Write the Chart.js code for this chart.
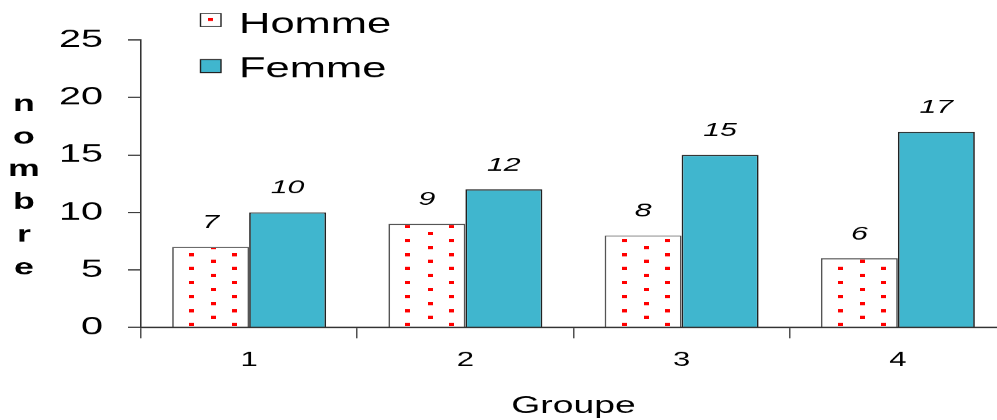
<!DOCTYPE html>
<html>
<head>
<meta charset="utf-8">
<script src="https://cdn.jsdelivr.net/npm/chart.js@4"></script>
<style>
  html, body { margin: 0; padding: 0; background: #fff; overflow: hidden; }
</style>
</head>
<body>
<canvas id="c" width="650" height="420" style="width:1010px;height:420px"></canvas>
<script>
// Number of people per group, split by sex
const groupes = ['1', '2', '3', '4'];
const homme = [7, 9, 8, 6];
const femme = [10, 12, 15, 17];
const seriesNames = ['Homme', 'Femme'];
const yTitle = 'nombre';
const xTitle = 'Groupe';

const FONT = 'Arial, "Liberation Sans", sans-serif';
const TEAL = '#40b6ce';

// The chart is laid out on a 650-wide grid and shown 1010 px wide,
// so everything (text included) comes out horizontally widened.
const SX = 1010 / 650;
const px = v => v / SX;          // display x (px) -> layout units

// Red staggered-dot fill for the "Homme" bars
function dotPattern(ctx) {
  const tile = document.createElement('canvas');
  tile.width = 43; tile.height = 22;
  const t = tile.getContext('2d');
  t.fillStyle = '#fff';
  t.fillRect(0, 0, 43, 22);
  t.fillStyle = '#ff0000';
  t.fillRect(16, 1, 5, 5);
  t.fillRect(38, 12, 5, 5);
  const p = ctx.createPattern(tile, 'repeat');
  // two dot columns every 43.26 px, one dot row every 7 px
  p.setTransform(new DOMMatrix([px(43.26) / 43, 0, 0, 14 / 22, 0, 0]));
  return p;
}
const canvas = document.getElementById('c');
const ctx0 = canvas.getContext('2d');
const hommeFill = dotPattern(ctx0);

// Value labels above each bar
const valueLabels = {
  id: 'valueLabels',
  beforeDatasetsDraw(chart) {
    chart.ctx.save();
    chart.ctx.imageSmoothingEnabled = false;
  },
  afterDatasetsDraw(chart) {
    const ctx = chart.ctx;
    ctx.restore();
    ctx.save();
    ctx.font = 'italic 19.5px ' + FONT;
    ctx.fillStyle = '#000';
    ctx.textAlign = 'center';
    ctx.textBaseline = 'alphabetic';
    chart.data.datasets.forEach((ds, i) => {
      chart.getDatasetMeta(i).data.forEach((bar, j) => {
        ctx.fillText(String(ds.data[j]), bar.x, bar.y - 19);
      });
    });
    ctx.restore();
  }
};

// Stacked vertical axis title and the legend in the upper left
const decorations = {
  id: 'decorations',
  afterDraw(chart) {
    const ctx = chart.ctx;
    ctx.save();
    ctx.fillStyle = '#000';
    ctx.font = 'bold 23px ' + FONT;
    ctx.textAlign = 'center';
    ctx.textBaseline = 'alphabetic';
    yTitle.split('').forEach((ch, i) => {
      ctx.fillText(ch, px(24), 110.5 + i * 32.7);
    });

    // legend
    const bx = px(200.5), bw = px(20.5);
    ctx.lineWidth = 0.9;
    ctx.strokeStyle = '#222';
    ctx.fillStyle = '#fff';
    ctx.fillRect(bx, 13.5, bw, 13);
    ctx.strokeRect(bx, 13.5, bw, 13);
    ctx.fillStyle = '#ff0000';
    ctx.fillRect(px(208), 18, px(5), 3);
    ctx.fillStyle = TEAL;
    ctx.fillRect(bx, 59.5, bw, 13);
    ctx.strokeRect(bx, 59.5, bw, 13);

    ctx.fillStyle = '#000';
    ctx.font = '28px ' + FONT;
    ctx.textAlign = 'left';
    ctx.fillText(seriesNames[0], px(239), 33);
    ctx.fillText(seriesNames[1], px(239), 77);
    ctx.restore();
  }
};

new Chart(ctx0, {
  type: 'bar',
  data: {
    labels: groupes,
    datasets: [
      {
        label: seriesNames[0],
        data: homme,
        backgroundColor: hommeFill,
        borderColor: '#555',
        borderWidth: 1.1,
        borderSkipped: 'bottom',
        categoryPercentage: 0.712,
        barPercentage: 1.0
      },
      {
        label: seriesNames[1],
        data: femme,
        backgroundColor: TEAL,
        borderColor: '#222',
        borderWidth: 1.1,
        borderSkipped: 'bottom',
        categoryPercentage: 0.712,
        barPercentage: 1.0
      }
    ]
  },
  options: {
    responsive: false,
    devicePixelRatio: SX,
    animation: false,
    events: [],
    layout: { padding: { top: 40, right: 650 - px(1006), left: 0, bottom: 0 } },
    plugins: {
      legend: { display: false },
      tooltip: { enabled: false }
    },
    scales: {
      x: {
        grid: {
          display: true,
          drawOnChartArea: false,
          drawTicks: true,
          tickLength: 11,
          color: '#444',
          lineWidth: 0.9,
          offset: true
        },
        border: { display: true, color: '#333', width: 1.5 },
        ticks: {
          color: '#000',
          font: { family: FONT, size: 20 },
          padding: 10,
          maxRotation: 0
        },
        title: {
          display: true,
          text: xTitle,
          color: '#000',
          font: { family: FONT, size: 24 },
          padding: { top: 0, bottom: 0 }
        },
        afterFit(scale) { scale.height = 93; }
      },
      y: {
        min: 0,
        max: 25,
        ticks: {
          stepSize: 5,
          color: '#000',
          font: { family: FONT, size: 25.5 },
          padding: px(25)
        },
        grid: {
          display: true,
          drawOnChartArea: false,
          drawTicks: true,
          tickLength: px(13),
          color: '#333',
          lineWidth: 1.2
        },
        border: { display: true, color: '#333', width: 1 },
        afterFit(scale) { scale.width = px(141); }
      }
    }
  },
  plugins: [valueLabels, decorations]
});
</script>
</body>
</html>
